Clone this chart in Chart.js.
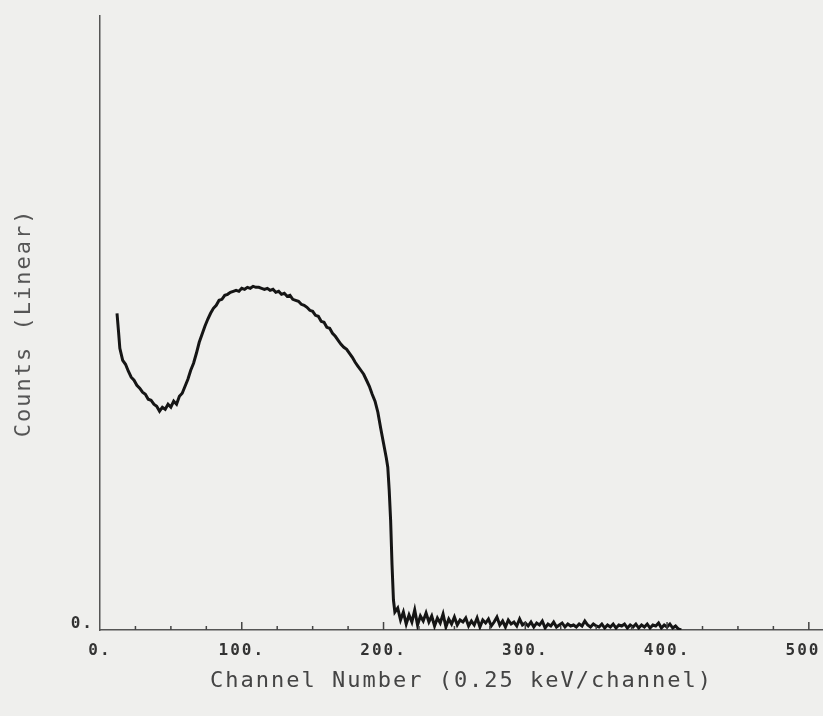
<!DOCTYPE html>
<html>
<head>
<meta charset="utf-8">
<script src="https://cdn.jsdelivr.net/npm/chart.js@4.4.1/dist/chart.umd.min.js"></script>
<style>
  body { margin: 0; background: #efefed; }
  #wrap { width: 823px; height: 716px; position: relative; }
</style>
</head>
<body>
<div id="wrap"><canvas id="chart"></canvas></div>
<script>
// spectrum: channel number and counts
const channels = [
    12, 13, 14, 16, 18, 20, 22, 24, 26, 28,
    30, 32, 34, 36, 38, 40, 42, 44, 46, 48,
    50, 52, 54, 56, 58, 60, 62, 64, 66, 68,
    70, 72, 74, 76, 78, 80, 82, 84, 86, 88,
    90, 92, 94, 96, 98, 100, 102, 104, 106, 108,
    110, 112, 114, 116, 118, 120, 122, 124, 126, 128,
    130, 132, 134, 136, 138, 140, 142, 144, 146, 148,
    150, 152, 154, 156, 158, 160, 162, 164, 166, 168,
    170, 172, 174, 176, 178, 180, 182, 184, 186, 188,
    190, 192, 194, 196, 198, 200, 202, 203, 204, 205,
    206, 207, 208,
    210, 212, 214, 216, 218, 220, 222, 224, 226, 228,
    230, 232, 234, 236, 238, 240, 242, 244, 246, 248,
    250, 252, 254, 256, 258, 260, 262, 264, 266, 268,
    270, 272, 274, 276, 278, 280, 282, 284, 286, 288,
    290, 292, 294, 296, 298, 300, 302, 304, 306, 308,
    310, 312, 314, 316, 318, 320, 322, 324, 326, 328,
    330, 332, 334, 336, 338, 340, 342, 344, 346, 348,
    350, 352, 354, 356, 358, 360, 362, 364, 366, 368,
    370, 372, 374, 376, 378, 380, 382, 384, 386, 388,
    390, 392, 394, 396, 398, 400, 402, 404, 406, 408,
    410
];

const counts = [
    1268, 1200, 1128, 1080, 1064, 1036, 1012, 1000, 980, 968,
    952, 944, 924, 920, 904, 896, 876, 892, 884, 904,
    892, 916, 904, 936, 948, 976, 1004, 1040, 1068, 1108,
    1152, 1184, 1216, 1244, 1268, 1288, 1300, 1320, 1324, 1340,
    1344, 1352, 1356, 1360, 1356, 1368, 1364, 1372, 1368, 1376,
    1372, 1372, 1368, 1364, 1368, 1360, 1364, 1352, 1356, 1344,
    1348, 1336, 1340, 1324, 1320, 1316, 1304, 1300, 1292, 1280,
    1276, 1260, 1256, 1236, 1232, 1212, 1208, 1188, 1176, 1160,
    1144, 1132, 1124, 1108, 1092, 1072, 1056, 1040, 1024, 1000,
    976, 944, 916, 872, 808, 748, 688, 652, 560, 440,
    260, 120, 72,
    88, 40, 72, 24, 60, 32, 80, 20, 56, 36,
    68, 32, 56, 16, 48, 28, 64, 12, 44, 24,
    52, 20, 40, 32, 48, 16, 36, 20, 48, 12,
    40, 28, 44, 16, 32, 52, 20, 36, 12, 40,
    24, 32, 16, 44, 20, 28, 16, 32, 12, 28,
    20, 36, 8, 24, 16, 32, 12, 20, 28, 12,
    24, 16, 20, 12, 24, 16, 36, 20, 12, 24,
    16, 12, 24, 8, 20, 12, 24, 8, 20, 16,
    24, 8, 20, 12, 24, 8, 20, 12, 24, 8,
    20, 16, 28, 8, 20, 12, 24, 8, 16, 4,
    0
];

const xLabelEvery = 100;

// small upward tick marks on the channel axis
const tickMarks = {
    id: 'tickMarks',
    afterDraw(chart) {
        const xs = chart.scales.x;
        const ctx = chart.ctx;
        const y0 = chart.chartArea.bottom;
        ctx.save();
        ctx.strokeStyle = '#444';
        ctx.lineWidth = 1.5;
        xs.ticks.forEach(t => {
            if (t.value === 0) return;
            const px = xs.getPixelForValue(t.value);
            const len = t.value % xLabelEvery === 0 ? 8 : 4;
            ctx.beginPath();
            ctx.moveTo(px, y0);
            ctx.lineTo(px, y0 - len);
            ctx.stroke();
        });
        ctx.restore();
    }
};

// the plotter lettering is wide, so space the letters out a little
const wideText = {
    id: 'wideText',
    beforeDraw(chart) { chart.ctx.letterSpacing = '2px'; },
    afterDraw(chart) { chart.ctx.letterSpacing = '0px'; }
};

new Chart(document.getElementById('chart'), {
    type: 'line',
    data: {
        datasets: [{
            data: channels.map((c, i) => ({ x: c, y: counts[i] })),
            borderColor: '#151515',
            borderWidth: 3,
            pointRadius: 0,
            tension: 0,
            fill: false,
        }]
    },
    options: {
        responsive: true,
        maintainAspectRatio: false,
        animation: false,
        layout: { padding: { top: 15, left: 0, right: 0, bottom: 0 } },
        plugins: { legend: { display: false }, tooltip: { enabled: false } },
        scales: {
            x: {
                type: 'linear',
                min: 0,
                max: 510,
                grid: { display: false, drawTicks: false },
                border: { display: true, color: '#555', width: 1.5 },
                ticks: {
                    stepSize: 25,
                    includeBounds: false,
                    autoSkip: false,
                    maxRotation: 0,
                    padding: 11,
                    color: '#333',
                    font: { family: 'DejaVu Sans Mono', size: 16, weight: 'bold' },
                    callback: v => (v % xLabelEvery === 0 ? v + '.' : ''),
                },
                title: {
                    display: true,
                    text: 'Channel Number (0.25 keV/channel)',
                    color: '#444',
                    font: { family: 'DejaVu Sans Mono', size: 22 },
                    padding: { top: 0, bottom: 22 },
                },
                afterFit: s => { s.height = 86; s.paddingLeft = 0; s.paddingRight = 0; },
            },
            y: {
                min: 0,
                max: 2460,
                grid: { display: false, drawTicks: false },
                border: { display: true, color: '#555', width: 1.5 },
                ticks: {
                    stepSize: 2460,
                    padding: 6,
                    labelOffset: -6,
                    color: '#333',
                    font: { family: 'DejaVu Sans Mono', size: 16, weight: 'bold' },
                    callback: v => (v === 0 ? '0.' : ''),
                },
                title: {
                    display: true,
                    text: 'Counts (Linear)',
                    color: '#555',
                    font: { family: 'DejaVu Sans Mono', size: 22 },
                    padding: { top: 11, bottom: 0 },
                },
                afterFit: s => { s.width = 100; },
            }
        }
    },
    plugins: [tickMarks, wideText]
});
</script>
</body>
</html>
